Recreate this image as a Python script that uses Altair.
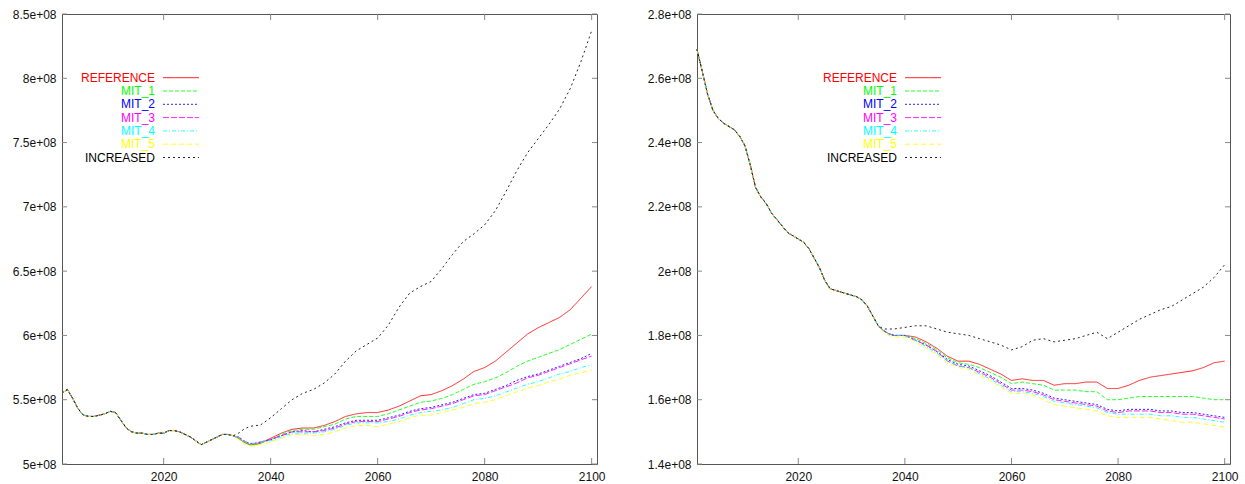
import altair as alt
import pandas as pd

SERIES = ["REFERENCE", "MIT_1", "MIT_2", "MIT_3", "MIT_4", "MIT_5", "INCREASED"]
COLORS = ["#ff0000", "#00ff00", "#0000ff", "#ff00ff", "#00ffff", "#ffff00", "#000000"]
DASHES = [[1, 0], [4, 2], [2, 2], [6, 2], [4, 2, 1, 2], [5, 3], [2, 3]]

X_TICKS = [2020, 2040, 2060, 2080, 2100]

# ---------------- left panel (values in units of 1e8) ----------------
L_Y_TICKS = [5.0, 5.5, 6.0, 6.5, 7.0, 7.5, 8.0, 8.5]
L_SHARED_YEARS = list(range(2001, 2034))
L_SHARED = [5.55, 5.58, 5.51, 5.43, 5.38, 5.37, 5.37, 5.38, 5.39, 5.41,
            5.40, 5.34, 5.28, 5.25, 5.24, 5.24, 5.23, 5.23, 5.24, 5.24,
            5.26, 5.26, 5.25, 5.23, 5.21, 5.18, 5.15, 5.17, 5.19, 5.21,
            5.23, 5.23, 5.22]
L_TAIL_YEARS = [2034, 2035, 2036, 2037, 2038] + list(range(2040, 2101, 2))
L_REF = [5.20, 5.17, 5.15, 5.15, 5.16,
         5.20, 5.24, 5.27, 5.28, 5.28, 5.30, 5.33, 5.37, 5.39, 5.40,
         5.40, 5.42, 5.45, 5.49, 5.53, 5.54, 5.57, 5.61, 5.66, 5.72,
         5.75, 5.80, 5.87, 5.94, 6.01, 6.06, 6.10, 6.14, 6.20, 6.29, 6.38]
L_MIT1 = [5.20, 5.17, 5.15, 5.15, 5.16,
          5.19, 5.23, 5.26, 5.27, 5.27, 5.29, 5.31, 5.35, 5.37, 5.37,
          5.37, 5.39, 5.42, 5.45, 5.48, 5.49, 5.51, 5.54, 5.58, 5.62,
          5.64, 5.67, 5.71, 5.76, 5.80, 5.83, 5.86, 5.89, 5.93, 5.97, 6.01]
L_MIT2 = [5.21, 5.18, 5.16, 5.16, 5.17,
          5.19, 5.22, 5.25, 5.26, 5.25, 5.27, 5.29, 5.32, 5.34, 5.34,
          5.34, 5.36, 5.38, 5.41, 5.43, 5.44, 5.46, 5.48, 5.51, 5.54,
          5.55, 5.58, 5.61, 5.65, 5.68, 5.70, 5.73, 5.76, 5.79, 5.82, 5.86]
L_MIT3 = [5.21, 5.18, 5.16, 5.16, 5.17,
          5.19, 5.22, 5.25, 5.25, 5.25, 5.26, 5.28, 5.31, 5.33, 5.33,
          5.33, 5.35, 5.37, 5.40, 5.42, 5.43, 5.45, 5.47, 5.50, 5.53,
          5.54, 5.57, 5.60, 5.63, 5.67, 5.69, 5.72, 5.75, 5.78, 5.81, 5.84]
L_MIT4 = [5.21, 5.18, 5.16, 5.16, 5.17,
          5.18, 5.21, 5.24, 5.24, 5.24, 5.25, 5.27, 5.30, 5.32, 5.32,
          5.32, 5.33, 5.35, 5.38, 5.40, 5.41, 5.42, 5.44, 5.47, 5.50,
          5.51, 5.53, 5.56, 5.59, 5.62, 5.64, 5.67, 5.70, 5.72, 5.75, 5.77]
L_MIT5 = [5.19, 5.16, 5.14, 5.14, 5.15,
          5.17, 5.20, 5.23, 5.23, 5.22, 5.23, 5.25, 5.28, 5.30, 5.30,
          5.29, 5.31, 5.33, 5.36, 5.38, 5.38, 5.40, 5.42, 5.44, 5.47,
          5.48, 5.50, 5.53, 5.56, 5.59, 5.61, 5.64, 5.66, 5.69, 5.71, 5.73]
L_INC = [5.24, 5.27, 5.29, 5.30, 5.30,
         5.36, 5.43, 5.50, 5.55, 5.58, 5.63, 5.70, 5.80, 5.88, 5.93,
         5.98, 6.08, 6.22, 6.33, 6.38, 6.42, 6.52, 6.63, 6.73, 6.79,
         6.86, 6.97, 7.12, 7.28, 7.42, 7.53, 7.64, 7.76, 7.92, 8.13, 8.37]

# ---------------- right panel (values in units of 1e8) ----------------
R_Y_TICKS = [1.4, 1.6, 1.8, 2.0, 2.2, 2.4, 2.6, 2.8]
R_SHARED_YEARS = list(range(2001, 2036))
R_SHARED = [2.69, 2.62, 2.55, 2.50, 2.475, 2.46, 2.45, 2.44, 2.42, 2.39,
            2.33, 2.26, 2.23, 2.21, 2.18, 2.16, 2.14, 2.12, 2.11, 2.10,
            2.09, 2.07, 2.04, 2.01, 1.97, 1.945, 1.94, 1.935, 1.93, 1.925,
            1.92, 1.91, 1.89, 1.86, 1.83]
R_TAIL_YEARS = [2036, 2037, 2038] + list(range(2040, 2101, 2))
R_REF = [1.815, 1.805, 1.80,
         1.80, 1.795, 1.78, 1.76, 1.735, 1.72, 1.72, 1.71, 1.695, 1.68,
         1.66, 1.665, 1.66, 1.66, 1.645, 1.65, 1.65, 1.655, 1.655, 1.635,
         1.635, 1.645, 1.66, 1.67, 1.675, 1.68, 1.685, 1.69, 1.70, 1.715, 1.72]
R_MIT1 = [1.815, 1.805, 1.80,
          1.80, 1.79, 1.775, 1.755, 1.73, 1.715, 1.71, 1.70, 1.685, 1.67,
          1.65, 1.655, 1.65, 1.645, 1.63, 1.63, 1.63, 1.625, 1.625, 1.60,
          1.60, 1.605, 1.61, 1.61, 1.61, 1.61, 1.61, 1.61, 1.605, 1.60, 1.60]
R_MIT2 = [1.815, 1.805, 1.80,
          1.80, 1.785, 1.77, 1.75, 1.725, 1.71, 1.705, 1.69, 1.675, 1.655,
          1.635, 1.635, 1.63, 1.62, 1.605, 1.60, 1.595, 1.59, 1.585, 1.57,
          1.565, 1.57, 1.57, 1.57, 1.565, 1.565, 1.56, 1.56, 1.555, 1.55, 1.545]
R_MIT3 = [1.815, 1.805, 1.80,
          1.80, 1.785, 1.77, 1.75, 1.72, 1.705, 1.70, 1.685, 1.67, 1.65,
          1.63, 1.63, 1.625, 1.615, 1.60, 1.595, 1.59, 1.585, 1.58, 1.565,
          1.56, 1.565, 1.565, 1.565, 1.56, 1.56, 1.555, 1.555, 1.55, 1.545, 1.54]
R_MIT4 = [1.815, 1.805, 1.80,
          1.80, 1.785, 1.765, 1.745, 1.72, 1.705, 1.70, 1.68, 1.665, 1.645,
          1.625, 1.625, 1.62, 1.61, 1.595, 1.59, 1.585, 1.58, 1.575, 1.56,
          1.555, 1.555, 1.555, 1.555, 1.55, 1.55, 1.545, 1.545, 1.54, 1.535, 1.53]
R_MIT5 = [1.81, 1.80, 1.795,
          1.795, 1.78, 1.76, 1.74, 1.715, 1.70, 1.695, 1.675, 1.66, 1.64,
          1.62, 1.62, 1.615, 1.60, 1.585, 1.58, 1.575, 1.57, 1.565, 1.55,
          1.545, 1.545, 1.545, 1.545, 1.54, 1.535, 1.53, 1.53, 1.525, 1.52, 1.515]
R_INC = [1.82, 1.82, 1.82,
         1.825, 1.83, 1.83, 1.82, 1.81, 1.805, 1.80, 1.79, 1.78, 1.77,
         1.755, 1.765, 1.785, 1.79, 1.78, 1.785, 1.79, 1.80, 1.81, 1.79,
         1.81, 1.83, 1.85, 1.865, 1.88, 1.89, 1.91, 1.93, 1.95, 1.98, 2.02]

FONT = "Liberation Sans"
PANEL_H = 450
FRAME = "#555555"
TICK_C = "#888888"


def panel(shared_years, shared, tail_years, tails, ydom, yticks, width, legend_x):
    rows = []
    for name, tail in zip(SERIES, tails):
        for yr, v in zip(shared_years + tail_years, shared + tail):
            rows.append({"series": name, "year": yr, "value": v})
    df = pd.DataFrame(rows)

    xs = alt.Scale(domain=[2001, 2101], nice=False, zero=False)
    ys = alt.Scale(domain=ydom, nice=False, zero=False)
    xaxis = alt.Axis(values=X_TICKS, format="d", title=None, labelPadding=7)
    yaxis = alt.Axis(values=yticks, title=None, labelPadding=6,
                     labelExpr="format(datum.value, '~g') + 'e+08'")
    color = alt.Color("series:N", scale=alt.Scale(domain=SERIES, range=COLORS), legend=None)
    dash = alt.StrokeDash("series:N", scale=alt.Scale(domain=SERIES, range=DASHES), legend=None)

    lines = alt.Chart(df).mark_line(strokeWidth=1, opacity=0.85).encode(
        x=alt.X("year:Q", scale=xs, axis=xaxis),
        y=alt.Y("value:Q", scale=ys, axis=yaxis),
        color=color,
        strokeDash=dash,
        detail="series:N",
    )

    ydf = pd.DataFrame({"v": yticks})
    xdf = pd.DataFrame({"v": X_TICKS})
    ytick_l = alt.Chart(ydf).mark_rule(color=TICK_C, strokeWidth=1).encode(
        y=alt.Y("v:Q", scale=ys, axis=yaxis), x=alt.value(0), x2=alt.value(5))
    ytick_r = alt.Chart(ydf).mark_rule(color=TICK_C, strokeWidth=1).encode(
        y=alt.Y("v:Q", scale=ys, axis=yaxis), x=alt.value(width - 5), x2=alt.value(width))
    xtick_b = alt.Chart(xdf).mark_rule(color=TICK_C, strokeWidth=1).encode(
        x=alt.X("v:Q", scale=xs, axis=xaxis), y=alt.value(PANEL_H - 6), y2=alt.value(PANEL_H))
    xtick_t = alt.Chart(xdf).mark_rule(color=TICK_C, strokeWidth=1).encode(
        x=alt.X("v:Q", scale=xs, axis=xaxis), y=alt.value(0), y2=alt.value(6))

    ldf = pd.DataFrame({"series": SERIES, "idx": list(range(len(SERIES)))})
    leg_base = alt.Chart(ldf).transform_calculate(ly="63.7 + 13.3 * datum.idx")
    leg_text = leg_base.mark_text(align="right", baseline="middle", font=FONT, fontSize=12).encode(
        x=alt.value(legend_x), y=alt.Y("ly:Q", scale=None), text="series:N", color=color)
    leg_line = leg_base.mark_rule(strokeWidth=1, opacity=0.85).encode(
        x=alt.value(legend_x + 8), x2=alt.value(legend_x + 44),
        y=alt.Y("ly:Q", scale=None), color=color, strokeDash=dash)

    return alt.layer(lines, ytick_l, ytick_r, xtick_b, xtick_t, leg_text, leg_line).properties(
        width=width, height=PANEL_H)


left = panel(L_SHARED_YEARS, L_SHARED, L_TAIL_YEARS,
             [L_REF, L_MIT1, L_MIT2, L_MIT3, L_MIT4, L_MIT5, L_INC],
             [5.0, 8.5], L_Y_TICKS, 535, 93)
right = panel(R_SHARED_YEARS, R_SHARED, R_TAIL_YEARS,
              [R_REF, R_MIT1, R_MIT2, R_MIT3, R_MIT4, R_MIT5, R_INC],
              [1.4, 2.8], R_Y_TICKS, 533, 200)

chart = alt.hconcat(left, right, spacing=100, bounds="flush").properties(
    padding={"left": 11, "top": 7, "right": 0, "bottom": 0},
    background="white",
).configure_view(
    stroke=FRAME, strokeWidth=1
).configure_axis(
    labelFont=FONT, labelFontSize=12, labelColor="#111111",
    ticks=False, tickSize=0, domain=False, grid=False,
)

chart.save("out.html", embed_options={"renderer": "svg", "actions": False})
